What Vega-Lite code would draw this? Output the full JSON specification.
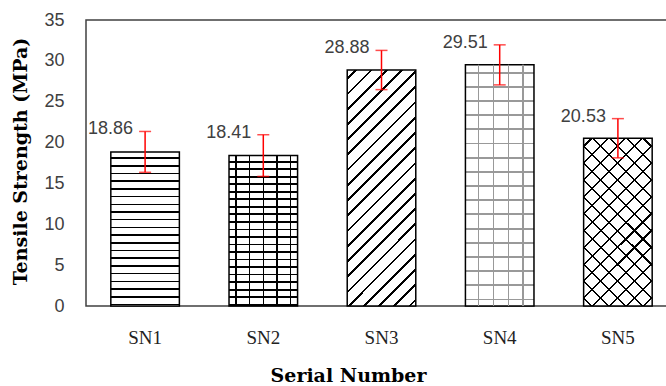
{
  "$schema": "https://vega.github.io/schema/vega-lite/v6.json",
  "width": 591,
  "height": 286,
  "autosize": {"type": "none"},
  "padding": {"left": 86, "top": 20, "right": 0, "bottom": 80},
  "background": "white",
  "config": {
    "view": {"stroke": "#404040", "strokeWidth": 1.5},
    "axisY": {
      "labelFont": "Liberation Sans", "labelFontSize": 18, "labelColor": "#404040",
      "labelPadding": 22, "ticks": false, "domain": false, "grid": false,
      "titleFont": "DejaVu Serif", "titleFontSize": 19, "titleFontWeight": "bold", "titleColor": "#000"
    },
    "axisX": {
      "labelFont": "Liberation Serif", "labelFontSize": 19, "labelColor": "#222",
      "labelPadding": 22, "ticks": false, "domain": false, "grid": false, "labelAngle": 0,
      "titleFont": "DejaVu Serif", "titleFontSize": 19, "titleFontWeight": "bold", "titleColor": "#000"
    }
  },
  "data": {
    "values": [
      {"sn": "SN1", "value": 18.86, "lo": 16.36, "hi": 21.36},
      {"sn": "SN2", "value": 18.41, "lo": 15.86, "hi": 20.96},
      {"sn": "SN3", "value": 28.88, "lo": 26.48, "hi": 31.28},
      {"sn": "SN4", "value": 29.51, "lo": 27.06, "hi": 31.96},
      {"sn": "SN5", "value": 20.53, "lo": 18.13, "hi": 22.93}
    ]
  },
  "encoding": {
    "x": {
      "field": "sn", "type": "nominal",
      "scale": {"domain": ["SN1", "SN2", "SN3", "SN4", "SN5"], "paddingInner": 0.42, "paddingOuter": 0.21},
      "axis": {"title": "Serial Number", "titleX": 262, "titleY": 75, "titleBaseline": "alphabetic"}
    },
    "y": {
      "field": "value", "type": "quantitative",
      "scale": {"domain": [0, 35], "nice": false},
      "axis": {"title": "Tensile Strength (MPa)", "values": [0, 5, 10, 15, 20, 25, 30, 35], "titleX": -66, "titleY": 141, "titleBaseline": "middle"}
    }
  },
  "layer": [
    {
      "transform": [{"filter": "datum.sn === 'SN1'"}],
      "mark": {"type": "bar", "stroke": "#000", "strokeWidth": 1.5,
        "fill": {"gradient": "linear", "x1": 0, "y1": 0, "x2": 0, "y2": 1, "stops": [
          {"offset": 0, "color": "#fff"},
          {"offset": 0.035, "color": "#fff"}, {"offset": 0.035, "color": "#000"}, {"offset": 0.045, "color": "#000"}, {"offset": 0.045, "color": "#fff"},
          {"offset": 0.085, "color": "#fff"}, {"offset": 0.085, "color": "#000"}, {"offset": 0.095, "color": "#000"}, {"offset": 0.095, "color": "#fff"},
          {"offset": 0.135, "color": "#fff"}, {"offset": 0.135, "color": "#000"}, {"offset": 0.145, "color": "#000"}, {"offset": 0.145, "color": "#fff"},
          {"offset": 0.185, "color": "#fff"}, {"offset": 0.185, "color": "#000"}, {"offset": 0.195, "color": "#000"}, {"offset": 0.195, "color": "#fff"},
          {"offset": 0.235, "color": "#fff"}, {"offset": 0.235, "color": "#000"}, {"offset": 0.245, "color": "#000"}, {"offset": 0.245, "color": "#fff"},
          {"offset": 0.285, "color": "#fff"}, {"offset": 0.285, "color": "#000"}, {"offset": 0.295, "color": "#000"}, {"offset": 0.295, "color": "#fff"},
          {"offset": 0.335, "color": "#fff"}, {"offset": 0.335, "color": "#000"}, {"offset": 0.345, "color": "#000"}, {"offset": 0.345, "color": "#fff"},
          {"offset": 0.385, "color": "#fff"}, {"offset": 0.385, "color": "#000"}, {"offset": 0.395, "color": "#000"}, {"offset": 0.395, "color": "#fff"},
          {"offset": 0.435, "color": "#fff"}, {"offset": 0.435, "color": "#000"}, {"offset": 0.445, "color": "#000"}, {"offset": 0.445, "color": "#fff"},
          {"offset": 0.485, "color": "#fff"}, {"offset": 0.485, "color": "#000"}, {"offset": 0.495, "color": "#000"}, {"offset": 0.495, "color": "#fff"},
          {"offset": 0.535, "color": "#fff"}, {"offset": 0.535, "color": "#000"}, {"offset": 0.545, "color": "#000"}, {"offset": 0.545, "color": "#fff"},
          {"offset": 0.585, "color": "#fff"}, {"offset": 0.585, "color": "#000"}, {"offset": 0.595, "color": "#000"}, {"offset": 0.595, "color": "#fff"},
          {"offset": 0.635, "color": "#fff"}, {"offset": 0.635, "color": "#000"}, {"offset": 0.645, "color": "#000"}, {"offset": 0.645, "color": "#fff"},
          {"offset": 0.685, "color": "#fff"}, {"offset": 0.685, "color": "#000"}, {"offset": 0.695, "color": "#000"}, {"offset": 0.695, "color": "#fff"},
          {"offset": 0.735, "color": "#fff"}, {"offset": 0.735, "color": "#000"}, {"offset": 0.745, "color": "#000"}, {"offset": 0.745, "color": "#fff"},
          {"offset": 0.785, "color": "#fff"}, {"offset": 0.785, "color": "#000"}, {"offset": 0.795, "color": "#000"}, {"offset": 0.795, "color": "#fff"},
          {"offset": 0.835, "color": "#fff"}, {"offset": 0.835, "color": "#000"}, {"offset": 0.845, "color": "#000"}, {"offset": 0.845, "color": "#fff"},
          {"offset": 0.885, "color": "#fff"}, {"offset": 0.885, "color": "#000"}, {"offset": 0.895, "color": "#000"}, {"offset": 0.895, "color": "#fff"},
          {"offset": 0.935, "color": "#fff"}, {"offset": 0.935, "color": "#000"}, {"offset": 0.945, "color": "#000"}, {"offset": 0.945, "color": "#fff"},
          {"offset": 0.985, "color": "#fff"}, {"offset": 0.985, "color": "#000"}, {"offset": 0.995, "color": "#000"}, {"offset": 0.995, "color": "#fff"},
          {"offset": 1, "color": "#fff"}
        ]}
      }
    },
    {
      "transform": [{"filter": "datum.sn === 'SN2'"}],
      "mark": {"type": "bar", "stroke": "#000", "strokeWidth": 1.5,
        "fill": {"gradient": "linear", "x1": 0, "y1": 0, "x2": 0, "y2": 1, "stops": [
          {"offset": 0, "color": "#fff"},
          {"offset": 0.035, "color": "#fff"}, {"offset": 0.035, "color": "#000"}, {"offset": 0.047, "color": "#000"}, {"offset": 0.047, "color": "#fff"},
          {"offset": 0.085, "color": "#fff"}, {"offset": 0.085, "color": "#000"}, {"offset": 0.097, "color": "#000"}, {"offset": 0.097, "color": "#fff"},
          {"offset": 0.135, "color": "#fff"}, {"offset": 0.135, "color": "#000"}, {"offset": 0.147, "color": "#000"}, {"offset": 0.147, "color": "#fff"},
          {"offset": 0.185, "color": "#fff"}, {"offset": 0.185, "color": "#000"}, {"offset": 0.197, "color": "#000"}, {"offset": 0.197, "color": "#fff"},
          {"offset": 0.235, "color": "#fff"}, {"offset": 0.235, "color": "#000"}, {"offset": 0.247, "color": "#000"}, {"offset": 0.247, "color": "#fff"},
          {"offset": 0.285, "color": "#fff"}, {"offset": 0.285, "color": "#000"}, {"offset": 0.297, "color": "#000"}, {"offset": 0.297, "color": "#fff"},
          {"offset": 0.335, "color": "#fff"}, {"offset": 0.335, "color": "#000"}, {"offset": 0.347, "color": "#000"}, {"offset": 0.347, "color": "#fff"},
          {"offset": 0.385, "color": "#fff"}, {"offset": 0.385, "color": "#000"}, {"offset": 0.397, "color": "#000"}, {"offset": 0.397, "color": "#fff"},
          {"offset": 0.435, "color": "#fff"}, {"offset": 0.435, "color": "#000"}, {"offset": 0.447, "color": "#000"}, {"offset": 0.447, "color": "#fff"},
          {"offset": 0.485, "color": "#fff"}, {"offset": 0.485, "color": "#000"}, {"offset": 0.497, "color": "#000"}, {"offset": 0.497, "color": "#fff"},
          {"offset": 0.535, "color": "#fff"}, {"offset": 0.535, "color": "#000"}, {"offset": 0.547, "color": "#000"}, {"offset": 0.547, "color": "#fff"},
          {"offset": 0.585, "color": "#fff"}, {"offset": 0.585, "color": "#000"}, {"offset": 0.597, "color": "#000"}, {"offset": 0.597, "color": "#fff"},
          {"offset": 0.635, "color": "#fff"}, {"offset": 0.635, "color": "#000"}, {"offset": 0.647, "color": "#000"}, {"offset": 0.647, "color": "#fff"},
          {"offset": 0.685, "color": "#fff"}, {"offset": 0.685, "color": "#000"}, {"offset": 0.697, "color": "#000"}, {"offset": 0.697, "color": "#fff"},
          {"offset": 0.735, "color": "#fff"}, {"offset": 0.735, "color": "#000"}, {"offset": 0.747, "color": "#000"}, {"offset": 0.747, "color": "#fff"},
          {"offset": 0.785, "color": "#fff"}, {"offset": 0.785, "color": "#000"}, {"offset": 0.797, "color": "#000"}, {"offset": 0.797, "color": "#fff"},
          {"offset": 0.835, "color": "#fff"}, {"offset": 0.835, "color": "#000"}, {"offset": 0.847, "color": "#000"}, {"offset": 0.847, "color": "#fff"},
          {"offset": 0.885, "color": "#fff"}, {"offset": 0.885, "color": "#000"}, {"offset": 0.897, "color": "#000"}, {"offset": 0.897, "color": "#fff"},
          {"offset": 0.935, "color": "#fff"}, {"offset": 0.935, "color": "#000"}, {"offset": 0.947, "color": "#000"}, {"offset": 0.947, "color": "#fff"},
          {"offset": 0.985, "color": "#fff"}, {"offset": 0.985, "color": "#000"}, {"offset": 0.997, "color": "#000"}, {"offset": 0.997, "color": "#fff"},
          {"offset": 1, "color": "#fff"}
        ]}
      }
    },
    {
      "transform": [{"filter": "datum.sn === 'SN2'"}],
      "mark": {"type": "bar", "strokeWidth": 0,
        "fill": {"gradient": "linear", "x1": 0, "y1": 0, "x2": 1, "y2": 0, "stops": [
          {"offset": 0, "color": "rgba(0,0,0,0)"},
          {"offset": 0.089, "color": "rgba(0,0,0,0)"}, {"offset": 0.089, "color": "#000"}, {"offset": 0.111, "color": "#000"}, {"offset": 0.111, "color": "rgba(0,0,0,0)"},
          {"offset": 0.289, "color": "rgba(0,0,0,0)"}, {"offset": 0.289, "color": "#000"}, {"offset": 0.311, "color": "#000"}, {"offset": 0.311, "color": "rgba(0,0,0,0)"},
          {"offset": 0.489, "color": "rgba(0,0,0,0)"}, {"offset": 0.489, "color": "#000"}, {"offset": 0.511, "color": "#000"}, {"offset": 0.511, "color": "rgba(0,0,0,0)"},
          {"offset": 0.689, "color": "rgba(0,0,0,0)"}, {"offset": 0.689, "color": "#000"}, {"offset": 0.711, "color": "#000"}, {"offset": 0.711, "color": "rgba(0,0,0,0)"},
          {"offset": 0.889, "color": "rgba(0,0,0,0)"}, {"offset": 0.889, "color": "#000"}, {"offset": 0.911, "color": "#000"}, {"offset": 0.911, "color": "rgba(0,0,0,0)"},
          {"offset": 1, "color": "rgba(0,0,0,0)"}
        ]}
      }
    },
    {
      "transform": [{"filter": "datum.sn === 'SN3'"}],
      "mark": {"type": "bar", "stroke": "#000", "strokeWidth": 1.5,
        "fill": {"gradient": "linear", "x1": 0, "y1": 0, "x2": 0.346, "y2": 1.19, "stops": [
          {"offset": 0, "color": "#fff"},
          {"offset": 0.025, "color": "#fff"}, {"offset": 0.025, "color": "#000"}, {"offset": 0.034, "color": "#000"}, {"offset": 0.034, "color": "#fff"},
          {"offset": 0.075, "color": "#fff"}, {"offset": 0.075, "color": "#000"}, {"offset": 0.084, "color": "#000"}, {"offset": 0.084, "color": "#fff"},
          {"offset": 0.125, "color": "#fff"}, {"offset": 0.125, "color": "#000"}, {"offset": 0.134, "color": "#000"}, {"offset": 0.134, "color": "#fff"},
          {"offset": 0.175, "color": "#fff"}, {"offset": 0.175, "color": "#000"}, {"offset": 0.184, "color": "#000"}, {"offset": 0.184, "color": "#fff"},
          {"offset": 0.225, "color": "#fff"}, {"offset": 0.225, "color": "#000"}, {"offset": 0.234, "color": "#000"}, {"offset": 0.234, "color": "#fff"},
          {"offset": 0.275, "color": "#fff"}, {"offset": 0.275, "color": "#000"}, {"offset": 0.284, "color": "#000"}, {"offset": 0.284, "color": "#fff"},
          {"offset": 0.325, "color": "#fff"}, {"offset": 0.325, "color": "#000"}, {"offset": 0.334, "color": "#000"}, {"offset": 0.334, "color": "#fff"},
          {"offset": 0.375, "color": "#fff"}, {"offset": 0.375, "color": "#000"}, {"offset": 0.384, "color": "#000"}, {"offset": 0.384, "color": "#fff"},
          {"offset": 0.425, "color": "#fff"}, {"offset": 0.425, "color": "#000"}, {"offset": 0.434, "color": "#000"}, {"offset": 0.434, "color": "#fff"},
          {"offset": 0.475, "color": "#fff"}, {"offset": 0.475, "color": "#000"}, {"offset": 0.484, "color": "#000"}, {"offset": 0.484, "color": "#fff"},
          {"offset": 0.525, "color": "#fff"}, {"offset": 0.525, "color": "#000"}, {"offset": 0.534, "color": "#000"}, {"offset": 0.534, "color": "#fff"},
          {"offset": 0.575, "color": "#fff"}, {"offset": 0.575, "color": "#000"}, {"offset": 0.584, "color": "#000"}, {"offset": 0.584, "color": "#fff"},
          {"offset": 0.625, "color": "#fff"}, {"offset": 0.625, "color": "#000"}, {"offset": 0.634, "color": "#000"}, {"offset": 0.634, "color": "#fff"},
          {"offset": 0.675, "color": "#fff"}, {"offset": 0.675, "color": "#000"}, {"offset": 0.684, "color": "#000"}, {"offset": 0.684, "color": "#fff"},
          {"offset": 0.725, "color": "#fff"}, {"offset": 0.725, "color": "#000"}, {"offset": 0.734, "color": "#000"}, {"offset": 0.734, "color": "#fff"},
          {"offset": 0.775, "color": "#fff"}, {"offset": 0.775, "color": "#000"}, {"offset": 0.784, "color": "#000"}, {"offset": 0.784, "color": "#fff"},
          {"offset": 0.825, "color": "#fff"}, {"offset": 0.825, "color": "#000"}, {"offset": 0.834, "color": "#000"}, {"offset": 0.834, "color": "#fff"},
          {"offset": 0.875, "color": "#fff"}, {"offset": 0.875, "color": "#000"}, {"offset": 0.884, "color": "#000"}, {"offset": 0.884, "color": "#fff"},
          {"offset": 0.925, "color": "#fff"}, {"offset": 0.925, "color": "#000"}, {"offset": 0.934, "color": "#000"}, {"offset": 0.934, "color": "#fff"},
          {"offset": 0.975, "color": "#fff"}, {"offset": 0.975, "color": "#000"}, {"offset": 0.984, "color": "#000"}, {"offset": 0.984, "color": "#fff"},
          {"offset": 1, "color": "#fff"}
        ]}
      }
    },
    {
      "transform": [{"filter": "datum.sn === 'SN4'"}],
      "mark": {"type": "bar", "stroke": "#000", "strokeWidth": 1.5,
        "fill": {"gradient": "linear", "x1": 0, "y1": 0, "x2": 0, "y2": 1, "stops": [
          {"offset": 0, "color": "#fff"},
          {"offset": 0.028, "color": "#fff"}, {"offset": 0.028, "color": "#999"}, {"offset": 0.036, "color": "#999"}, {"offset": 0.036, "color": "#fff"},
          {"offset": 0.087, "color": "#fff"}, {"offset": 0.087, "color": "#999"}, {"offset": 0.095, "color": "#999"}, {"offset": 0.095, "color": "#fff"},
          {"offset": 0.146, "color": "#fff"}, {"offset": 0.146, "color": "#999"}, {"offset": 0.154, "color": "#999"}, {"offset": 0.154, "color": "#fff"},
          {"offset": 0.204, "color": "#fff"}, {"offset": 0.204, "color": "#999"}, {"offset": 0.212, "color": "#999"}, {"offset": 0.212, "color": "#fff"},
          {"offset": 0.263, "color": "#fff"}, {"offset": 0.263, "color": "#999"}, {"offset": 0.271, "color": "#999"}, {"offset": 0.271, "color": "#fff"},
          {"offset": 0.322, "color": "#fff"}, {"offset": 0.322, "color": "#999"}, {"offset": 0.330, "color": "#999"}, {"offset": 0.330, "color": "#fff"},
          {"offset": 0.381, "color": "#fff"}, {"offset": 0.381, "color": "#999"}, {"offset": 0.389, "color": "#999"}, {"offset": 0.389, "color": "#fff"},
          {"offset": 0.440, "color": "#fff"}, {"offset": 0.440, "color": "#999"}, {"offset": 0.448, "color": "#999"}, {"offset": 0.448, "color": "#fff"},
          {"offset": 0.498, "color": "#fff"}, {"offset": 0.498, "color": "#999"}, {"offset": 0.506, "color": "#999"}, {"offset": 0.506, "color": "#fff"},
          {"offset": 0.557, "color": "#fff"}, {"offset": 0.557, "color": "#999"}, {"offset": 0.565, "color": "#999"}, {"offset": 0.565, "color": "#fff"},
          {"offset": 0.616, "color": "#fff"}, {"offset": 0.616, "color": "#999"}, {"offset": 0.624, "color": "#999"}, {"offset": 0.624, "color": "#fff"},
          {"offset": 0.675, "color": "#fff"}, {"offset": 0.675, "color": "#999"}, {"offset": 0.683, "color": "#999"}, {"offset": 0.683, "color": "#fff"},
          {"offset": 0.734, "color": "#fff"}, {"offset": 0.734, "color": "#999"}, {"offset": 0.742, "color": "#999"}, {"offset": 0.742, "color": "#fff"},
          {"offset": 0.792, "color": "#fff"}, {"offset": 0.792, "color": "#999"}, {"offset": 0.800, "color": "#999"}, {"offset": 0.800, "color": "#fff"},
          {"offset": 0.851, "color": "#fff"}, {"offset": 0.851, "color": "#999"}, {"offset": 0.859, "color": "#999"}, {"offset": 0.859, "color": "#fff"},
          {"offset": 0.910, "color": "#fff"}, {"offset": 0.910, "color": "#999"}, {"offset": 0.918, "color": "#999"}, {"offset": 0.918, "color": "#fff"},
          {"offset": 0.969, "color": "#fff"}, {"offset": 0.969, "color": "#999"}, {"offset": 0.977, "color": "#999"}, {"offset": 0.977, "color": "#fff"},
          {"offset": 1, "color": "#fff"}
        ]}
      }
    },
    {
      "transform": [{"filter": "datum.sn === 'SN4'"}],
      "mark": {"type": "bar", "strokeWidth": 0,
        "fill": {"gradient": "linear", "x1": 0, "y1": 0, "x2": 1, "y2": 0, "stops": [
          {"offset": 0, "color": "rgba(0,0,0,0)"},
          {"offset": 0.180, "color": "rgba(0,0,0,0)"}, {"offset": 0.180, "color": "#999"}, {"offset": 0.200, "color": "#999"}, {"offset": 0.200, "color": "rgba(0,0,0,0)"},
          {"offset": 0.395, "color": "rgba(0,0,0,0)"}, {"offset": 0.395, "color": "#999"}, {"offset": 0.415, "color": "#999"}, {"offset": 0.415, "color": "rgba(0,0,0,0)"},
          {"offset": 0.615, "color": "rgba(0,0,0,0)"}, {"offset": 0.615, "color": "#999"}, {"offset": 0.635, "color": "#999"}, {"offset": 0.635, "color": "rgba(0,0,0,0)"},
          {"offset": 0.830, "color": "rgba(0,0,0,0)"}, {"offset": 0.830, "color": "#999"}, {"offset": 0.850, "color": "#999"}, {"offset": 0.850, "color": "rgba(0,0,0,0)"},
          {"offset": 1, "color": "rgba(0,0,0,0)"}
        ]}
      }
    },
    {
      "transform": [{"filter": "datum.sn === 'SN5'"}],
      "mark": {"type": "bar", "stroke": "#000", "strokeWidth": 1.5,
        "fill": {"gradient": "linear", "x1": 0, "y1": 0, "x2": 0.4925, "y2": 1.207, "stops": [
          {"offset": 0, "color": "#fff"},
          {"offset": 0.030, "color": "#fff"}, {"offset": 0.030, "color": "#000"}, {"offset": 0.039, "color": "#000"}, {"offset": 0.039, "color": "#fff"},
          {"offset": 0.101, "color": "#fff"}, {"offset": 0.101, "color": "#000"}, {"offset": 0.110, "color": "#000"}, {"offset": 0.110, "color": "#fff"},
          {"offset": 0.173, "color": "#fff"}, {"offset": 0.173, "color": "#000"}, {"offset": 0.182, "color": "#000"}, {"offset": 0.182, "color": "#fff"},
          {"offset": 0.244, "color": "#fff"}, {"offset": 0.244, "color": "#000"}, {"offset": 0.253, "color": "#000"}, {"offset": 0.253, "color": "#fff"},
          {"offset": 0.316, "color": "#fff"}, {"offset": 0.316, "color": "#000"}, {"offset": 0.325, "color": "#000"}, {"offset": 0.325, "color": "#fff"},
          {"offset": 0.387, "color": "#fff"}, {"offset": 0.387, "color": "#000"}, {"offset": 0.396, "color": "#000"}, {"offset": 0.396, "color": "#fff"},
          {"offset": 0.458, "color": "#fff"}, {"offset": 0.458, "color": "#000"}, {"offset": 0.467, "color": "#000"}, {"offset": 0.467, "color": "#fff"},
          {"offset": 0.530, "color": "#fff"}, {"offset": 0.530, "color": "#000"}, {"offset": 0.539, "color": "#000"}, {"offset": 0.539, "color": "#fff"},
          {"offset": 0.601, "color": "#fff"}, {"offset": 0.601, "color": "#000"}, {"offset": 0.610, "color": "#000"}, {"offset": 0.610, "color": "#fff"},
          {"offset": 0.673, "color": "#fff"}, {"offset": 0.673, "color": "#000"}, {"offset": 0.682, "color": "#000"}, {"offset": 0.682, "color": "#fff"},
          {"offset": 0.744, "color": "#fff"}, {"offset": 0.744, "color": "#000"}, {"offset": 0.753, "color": "#000"}, {"offset": 0.753, "color": "#fff"},
          {"offset": 0.815, "color": "#fff"}, {"offset": 0.815, "color": "#000"}, {"offset": 0.824, "color": "#000"}, {"offset": 0.824, "color": "#fff"},
          {"offset": 0.887, "color": "#fff"}, {"offset": 0.887, "color": "#000"}, {"offset": 0.896, "color": "#000"}, {"offset": 0.896, "color": "#fff"},
          {"offset": 0.958, "color": "#fff"}, {"offset": 0.958, "color": "#000"}, {"offset": 0.967, "color": "#000"}, {"offset": 0.967, "color": "#fff"},
          {"offset": 1, "color": "#fff"}
        ]}
      }
    },
    {
      "transform": [{"filter": "datum.sn === 'SN5'"}],
      "mark": {"type": "bar", "strokeWidth": 0,
        "fill": {"gradient": "linear", "x1": 0, "y1": 1, "x2": 0.4925, "y2": -0.207, "stops": [
          {"offset": 0, "color": "rgba(0,0,0,0)"},
          {"offset": 0.030, "color": "rgba(0,0,0,0)"}, {"offset": 0.030, "color": "#000"}, {"offset": 0.039, "color": "#000"}, {"offset": 0.039, "color": "rgba(0,0,0,0)"},
          {"offset": 0.101, "color": "rgba(0,0,0,0)"}, {"offset": 0.101, "color": "#000"}, {"offset": 0.110, "color": "#000"}, {"offset": 0.110, "color": "rgba(0,0,0,0)"},
          {"offset": 0.173, "color": "rgba(0,0,0,0)"}, {"offset": 0.173, "color": "#000"}, {"offset": 0.182, "color": "#000"}, {"offset": 0.182, "color": "rgba(0,0,0,0)"},
          {"offset": 0.244, "color": "rgba(0,0,0,0)"}, {"offset": 0.244, "color": "#000"}, {"offset": 0.253, "color": "#000"}, {"offset": 0.253, "color": "rgba(0,0,0,0)"},
          {"offset": 0.316, "color": "rgba(0,0,0,0)"}, {"offset": 0.316, "color": "#000"}, {"offset": 0.325, "color": "#000"}, {"offset": 0.325, "color": "rgba(0,0,0,0)"},
          {"offset": 0.387, "color": "rgba(0,0,0,0)"}, {"offset": 0.387, "color": "#000"}, {"offset": 0.396, "color": "#000"}, {"offset": 0.396, "color": "rgba(0,0,0,0)"},
          {"offset": 0.458, "color": "rgba(0,0,0,0)"}, {"offset": 0.458, "color": "#000"}, {"offset": 0.467, "color": "#000"}, {"offset": 0.467, "color": "rgba(0,0,0,0)"},
          {"offset": 0.530, "color": "rgba(0,0,0,0)"}, {"offset": 0.530, "color": "#000"}, {"offset": 0.539, "color": "#000"}, {"offset": 0.539, "color": "rgba(0,0,0,0)"},
          {"offset": 0.601, "color": "rgba(0,0,0,0)"}, {"offset": 0.601, "color": "#000"}, {"offset": 0.610, "color": "#000"}, {"offset": 0.610, "color": "rgba(0,0,0,0)"},
          {"offset": 0.673, "color": "rgba(0,0,0,0)"}, {"offset": 0.673, "color": "#000"}, {"offset": 0.682, "color": "#000"}, {"offset": 0.682, "color": "rgba(0,0,0,0)"},
          {"offset": 0.744, "color": "rgba(0,0,0,0)"}, {"offset": 0.744, "color": "#000"}, {"offset": 0.753, "color": "#000"}, {"offset": 0.753, "color": "rgba(0,0,0,0)"},
          {"offset": 0.815, "color": "rgba(0,0,0,0)"}, {"offset": 0.815, "color": "#000"}, {"offset": 0.824, "color": "#000"}, {"offset": 0.824, "color": "rgba(0,0,0,0)"},
          {"offset": 0.887, "color": "rgba(0,0,0,0)"}, {"offset": 0.887, "color": "#000"}, {"offset": 0.896, "color": "#000"}, {"offset": 0.896, "color": "rgba(0,0,0,0)"},
          {"offset": 0.958, "color": "rgba(0,0,0,0)"}, {"offset": 0.958, "color": "#000"}, {"offset": 0.967, "color": "#000"}, {"offset": 0.967, "color": "rgba(0,0,0,0)"},
          {"offset": 1, "color": "rgba(0,0,0,0)"}
        ]}
      }
    },
    {
      "mark": {"type": "rule", "color": "#ff0000", "strokeWidth": 1.5},
      "encoding": {"y": {"field": "lo", "type": "quantitative"}, "y2": {"field": "hi"}}
    },
    {
      "mark": {"type": "tick", "color": "#ff0000", "thickness": 1.5, "size": 12},
      "encoding": {"y": {"field": "lo", "type": "quantitative"}}
    },
    {
      "mark": {"type": "tick", "color": "#ff0000", "thickness": 1.5, "size": 12},
      "encoding": {"y": {"field": "hi", "type": "quantitative"}}
    },
    {
      "mark": {"type": "text", "align": "right", "baseline": "middle", "dx": -12, "dy": -2, "font": "Liberation Sans", "fontSize": 18, "color": "#404040"},
      "encoding": {"y": {"field": "hi", "type": "quantitative"}, "text": {"field": "value", "type": "quantitative", "format": ".2f"}}
    }
  ]
}
